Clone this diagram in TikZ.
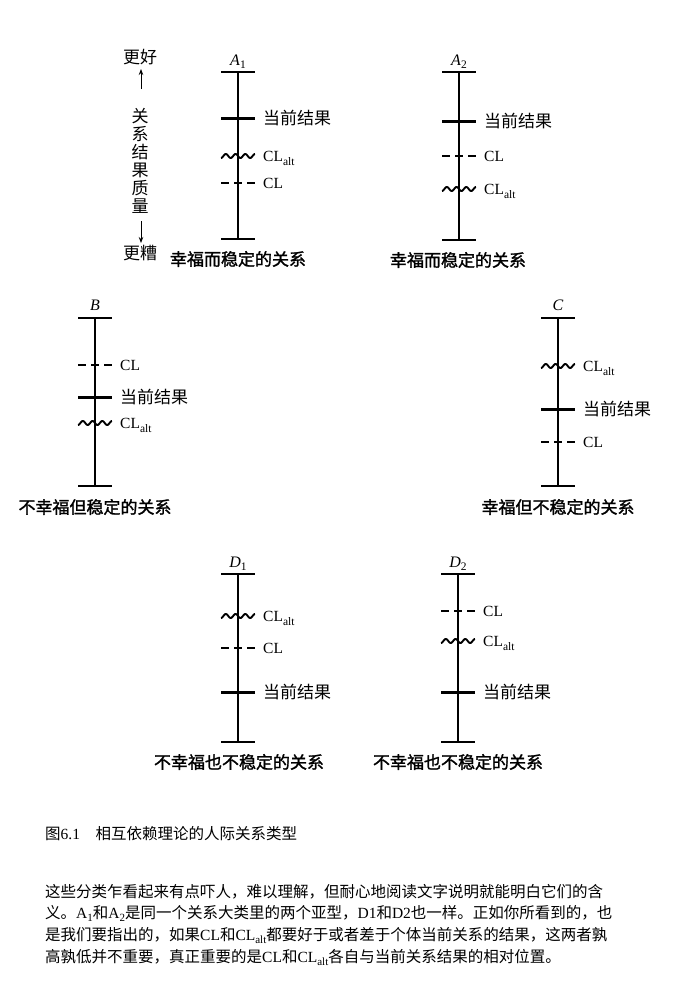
\documentclass[tikz,border=0pt]{standalone}
\usepackage{fontspec}
\setmainfont{Liberation Serif}
\newfontfamily\cjk{Noto Sans CJK SC}
\newfontfamily\cjkb[FakeBold=1.6]{Noto Sans CJK SC}
\usetikzlibrary{arrows.meta}
\newcommand\lsub[1]{\raisebox{-3.5pt}{\fontsize{11.5}{11.5}\selectfont #1}}
\newcommand\psub[1]{\raisebox{-3pt}{\fontsize{11}{11}\selectfont #1}}
\tikzset{
  x=1pt, y=-1pt,
  scaleline/.style={line width=1.1pt},
  curtick/.style={line width=3pt},
  cltick/.style={line width=2.3pt, dash pattern=on 8pt off 5pt},
  alttick/.style={line width=1.9pt},
  lab/.style={anchor=base west, inner sep=0pt},
  zh/.style={font=\cjk\fontsize{17}{18}\selectfont, inner sep=0pt},
  lat/.style={font=\fontsize{15.5}{16}\selectfont, inner sep=0pt},
  ttl/.style={font=\fontsize{16}{16}\selectfont, inner sep=0pt, anchor=base},
  captext/.style={font=\cjkb\fontsize{17}{17}\selectfont, inner sep=0pt},
  txt/.style={font=\fontsize{15.5}{16}\selectfont, inner sep=0pt, anchor=base west},
  axarrow/.style={line width=0.9pt, -{Stealth[length=6pt,width=4.5pt]}},
}
% name, x, ytop, ybottom
\newcommand\scaleaxis[4]{%
  \coordinate (#1t) at (#2,#3);
  \coordinate (#1b) at (#2,#4);
  \draw[scaleline] (#1t) -- (#1b);
  \draw[scaleline] (#2-17,#3) -- (#2+17,#3);
  \draw[scaleline] (#2-17,#4) -- (#2+17,#4);
}
% x, y, name
\newcommand\curmark[3]{%
  \draw[curtick] (#1-17,#2) -- (#1+17,#2);
  \node[zh,lab] (#3) at (#1+25,#2+6.5) {当前结果};
}
\newcommand\clmark[3]{%
  \draw[cltick] (#1-17,#2) -- (#1+17,#2);
  \node[lat,lab] (#3) at (#1+25,#2+5.5) {CL};
}
\newcommand\altmark[3]{%
  \draw[alttick] plot[domain=-17:17, samples=69, smooth] ({#1+\x},{#2+2*sin(\x*37)});
  \node[lat,lab] (#3) at (#1+25,#2+5.5) {CL\lsub{alt}};
}
\begin{document}
\begin{tikzpicture}
\useasboundingbox (0,0) rectangle (678,988);

% ---- axis legend
\node[zh] (better) at (140,57) {更好};
\coordinate (uptail) at (141,89);
\coordinate (uphead) at (141,69);
\draw[axarrow] (uptail) -- (uphead);
\node[zh, align=center] (quality) at (140,161) {关\\系\\结\\果\\质\\量};
\coordinate (dntail) at (141,221);
\coordinate (dnhead) at (141,243);
\draw[axarrow] (dntail) -- (dnhead);
\node[zh] (worse) at (140,253) {更糟};

% ---- A1
\node[ttl] (A1) at (238,65) {\textit{A}\lsub{1}};
\scaleaxis{a1}{238}{72}{239}
\curmark{238}{118}{a1cur}
\altmark{238}{156}{a1alt}
\clmark{238}{183}{a1cl}
\node[captext] (a1cap) at (238,259) {幸福而稳定的关系};

% ---- A2
\node[ttl] (A2) at (459,65) {\textit{A}\lsub{2}};
\scaleaxis{a2}{459}{72}{240}
\curmark{459}{121}{a2cur}
\clmark{459}{156}{a2cl}
\altmark{459}{189}{a2alt}
\node[captext] (a2cap) at (458,260) {幸福而稳定的关系};

% ---- B
\node[ttl] (Bt) at (95,310) {\textit{B}};
\scaleaxis{b}{95}{318}{486}
\clmark{95}{365}{bcl}
\curmark{95}{397}{bcur}
\altmark{95}{423}{balt}
\node[captext] (bcap) at (95,507) {不幸福但稳定的关系};

% ---- C
\node[ttl] (Ct) at (558,310) {\textit{C}};
\scaleaxis{c}{558}{318}{486}
\altmark{558}{366}{calt}
\curmark{558}{409}{ccur}
\clmark{558}{442}{ccl}
\node[captext] (ccap) at (558,507) {幸福但不稳定的关系};

% ---- D1
\node[ttl] (D1) at (238,567) {\textit{D}\lsub{1}};
\scaleaxis{d1}{238}{574}{742}
\altmark{238}{616}{d1alt}
\clmark{238}{648}{d1cl}
\curmark{238}{692}{d1cur}
\node[captext] (d1cap) at (239,762) {不幸福也不稳定的关系};

% ---- D2
\node[ttl] (D2) at (458,567) {\textit{D}\lsub{2}};
\scaleaxis{d2}{458}{574}{742}
\clmark{458}{611}{d2cl}
\altmark{458}{641}{d2alt}
\curmark{458}{692}{d2cur}
\node[captext] (d2cap) at (458,762) {不幸福也不稳定的关系};

% ---- caption and text
\node[txt] (figcap) at (45,839) {{\cjk 图}6.1\hspace{1em}{\cjk 相互依赖理论的人际关系类型}};
\node[txt] (p1) at (45,897) {{\cjk 这些分类乍看起来有点吓人，难以理解，但耐心地阅读文字说明就能明白它们的含}};
\node[txt] (p2) at (45,918) {{\cjk 义。}A\psub{1}{\cjk 和}A\psub{2}{\cjk 是同一个关系大类里的两个亚型，}D1{\cjk 和}D2{\cjk 也一样。正如你所看到的，也}};
\node[txt] (p3) at (45,940) {{\cjk 是我们要指出的，如果}CL{\cjk 和}CL\psub{alt}{\cjk 都要好于或者差于个体当前关系的结果，这两者孰}};
\node[txt] (p4) at (45,962) {{\cjk 高孰低并不重要，真正重要的是}CL{\cjk 和}CL\psub{alt}{\cjk 各自与当前关系结果的相对位置。}};
\end{tikzpicture}
\end{document}
